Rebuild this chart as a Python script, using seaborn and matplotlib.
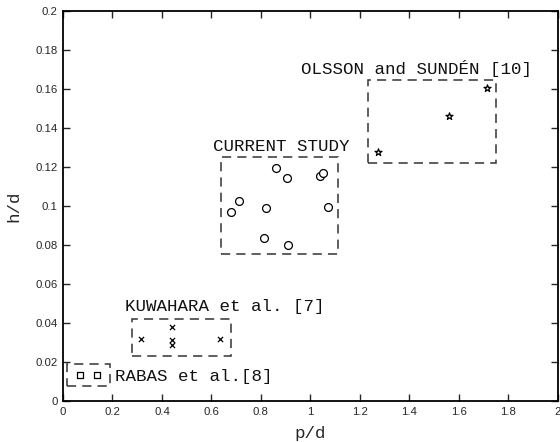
import matplotlib
matplotlib.use("Agg")
import matplotlib.pyplot as plt
import seaborn as sns
import pandas as pd
from matplotlib.patches import Rectangle

sns.set_style("ticks")
plt.rcParams["font.family"] = ["Liberation Sans", "DejaVu Sans"]

# Present study: fin pitch / diameter vs fin height / diameter
current_p = [0.679, 0.711, 0.819, 0.812, 0.863, 0.904, 0.908, 1.038, 1.053, 1.073]
current_h = [0.0969, 0.1026, 0.0990, 0.0834, 0.1195, 0.1145, 0.0802, 0.1154, 0.1171, 0.0995]

# Olsson and Sundén [10]
olsson_p = [1.274, 1.561, 1.712]
olsson_h = [0.1277, 0.1463, 0.1603]

# Kuwahara et al. [7]
kuwahara_p = [0.315, 0.440, 0.440, 0.440, 0.633]
kuwahara_h = [0.0318, 0.0380, 0.0313, 0.0289, 0.0318]

# Rabas et al. [8]
rabas_p = [0.067, 0.137]
rabas_h = [0.0132, 0.0132]

# Parameter ranges of each study (p_min, p_max, h_min, h_max)
current_box = (0.64, 1.112, 0.0755, 0.1253)
olsson_box = (1.231, 1.752, 0.1222, 0.1646)
kuwahara_box = (0.279, 0.679, 0.0231, 0.0419)
rabas_box = (0.017, 0.190, 0.0078, 0.0188)

group_labels = ["CURRENT STUDY", "OLSSON and SUNDÉN [10]", "KUWAHARA et al. [7]", "RABAS et al.[8]"]

x_ticks = [0, 0.2, 0.4, 0.6, 0.8, 1, 1.2, 1.4, 1.6, 1.8, 2]
y_ticks = [0, 0.02, 0.04, 0.06, 0.08, 0.1, 0.12, 0.14, 0.16, 0.18, 0.2]

fig = plt.figure(figsize=(5.6, 4.42), dpi=100)
ax = fig.add_axes([0.1125, 0.0928, 0.8835, 0.8824])

mono = ["Liberation Mono", "DejaVu Sans Mono"]

groups = [
    (current_p, current_h, "o", 32, "white", 0.9),
    (olsson_p, olsson_h, "*", 28, "white", 0.9),
    (kuwahara_p, kuwahara_h, "x", 14, "black", 0.9),
    (rabas_p, rabas_h, "s", 16, "white", 0.9),
]
for (px, hy, mk, sz, fc, lw), name in zip(groups, group_labels):
    df = pd.DataFrame({"p/d": px, "h/d": hy})
    sns.scatterplot(data=df, x="p/d", y="h/d", marker=mk, s=sz, color="black",
                    facecolor=fc, edgecolor="black", linewidth=lw, ax=ax,
                    legend=False, zorder=3)

for (x0, x1, y0, y1) in [current_box, olsson_box, kuwahara_box, rabas_box]:
    ax.add_patch(Rectangle((x0, y0), x1 - x0, y1 - y0, fill=False,
                           edgecolor="#333333", linewidth=1.1,
                           linestyle=(0, (6, 4)), zorder=2))

label_kw = dict(family=mono, fontsize=12.6, va="center", ha="left", color="#111111")
ax.text(0.605, 0.1304, "CURRENT STUDY", **label_kw)
ax.text(0.964, 0.1706, "OLSSON and SUNDÉN [10]", **label_kw)
ax.text(0.250, 0.0484, "KUWAHARA et al. [7]", **label_kw)
ax.text(0.210, 0.0125, "RABAS et al.[8]", **label_kw)

ax.set_xlim(0, 2)
ax.set_ylim(0, 0.2)
ax.set_xticks(x_ticks)
ax.set_yticks(y_ticks)
ax.set_xticklabels([f"{v:g}" for v in x_ticks])
ax.set_yticklabels([f"{v:g}" for v in y_ticks])
ax.tick_params(direction="in", length=5, width=1, labelsize=8.2, pad=4,
               top=True, right=True, bottom=True, left=True)
for sp in ax.spines.values():
    sp.set_visible(True)
    sp.set_linewidth(1.3)
    sp.set_color("black")

ax.set_xlabel("p/d", family=mono, fontsize=12.6, labelpad=7)
ax.set_ylabel("h/d", family=mono, fontsize=12.6, labelpad=10)

fig.savefig("out.png", dpi=100)
